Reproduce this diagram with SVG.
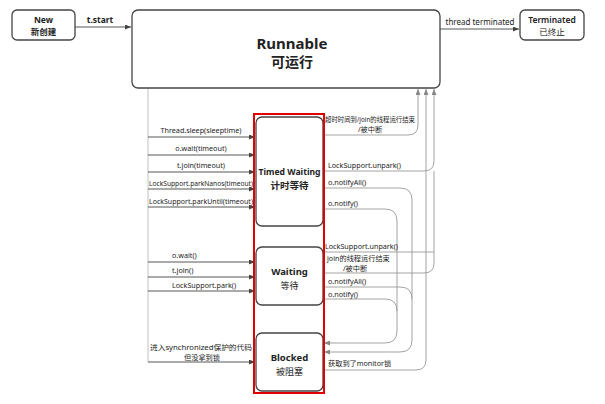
<svg xmlns="http://www.w3.org/2000/svg" width="605" height="404" viewBox="0 0 605 404">
<style>
text{font-family:"Noto Sans","Noto Sans CJK SC",sans-serif;fill:#222}
.node{fill:#fff;stroke:#444;stroke-width:1.3}
.t{font-weight:bold;text-anchor:middle}
.lb{font-size:7.2px}
.m{text-anchor:middle}
.dk{fill:none;stroke:#444;stroke-width:0.9}
.gr{fill:none;stroke:#999;stroke-width:0.9}
.lg{fill:none;stroke:#bbb;stroke-width:0.9}
</style>
<defs>
<marker id="ad" markerUnits="userSpaceOnUse" markerWidth="6" markerHeight="5" refX="6" refY="2.5" orient="auto"><path d="M0,0L6,2.5L0,5z" fill="#444"/></marker>
<marker id="ag" markerUnits="userSpaceOnUse" markerWidth="6" markerHeight="5" refX="6" refY="2.5" orient="auto"><path d="M0,0L6,2.5L0,5z" fill="#888"/></marker>
</defs>
<rect width="605" height="404" fill="#fff"/>
<g id="connectors">
<path class="dk" d="M75 27H131" marker-end="url(#ad)"/>
<path class="dk" d="M440 29H519" marker-end="url(#ad)"/>
<path class="lg" d="M148 88V362"/>
<path class="dk" d="M148 362H255" marker-end="url(#ad)"/>
<path class="dk" d="M148 137H255" marker-end="url(#ad)"/>
<path class="dk" d="M148 155H255" marker-end="url(#ad)"/>
<path class="dk" d="M148 172H255" marker-end="url(#ad)"/>
<path class="dk" d="M148 189H255" marker-end="url(#ad)"/>
<path class="dk" d="M148 207H255" marker-end="url(#ad)"/>
<path class="dk" d="M148 262H255" marker-end="url(#ad)"/>
<path class="dk" d="M148 277H255" marker-end="url(#ad)"/>
<path class="dk" d="M148 291H255" marker-end="url(#ad)"/>
<path class="gr" d="M323 135H408Q418 135 418 125V89" marker-end="url(#ag)"/>
<path class="gr" d="M323 171H424Q434 171 434 161V89" marker-end="url(#ag)"/>
<path class="gr" d="M323 252H434"/>
<path class="gr" d="M323 273H424Q434 273 434 263V171"/>
<path class="gr" d="M323 370H416Q426 370 426 360V89" marker-end="url(#ag)"/>
<path class="gr" d="M323 188H400Q412 188 412 200V340Q412 352 400 352H324" marker-end="url(#ag)"/>
<path class="gr" d="M323 287H400Q412 287 412 299"/>
<path class="gr" d="M323 209H385Q397 209 397 221V331Q397 343 385 343H324" marker-end="url(#ag)"/>
<path class="gr" d="M323 299H385Q397 299 397 311"/>
</g>
<g id="labels">
<text x="100" y="23" text-anchor="middle" style="font-size:8.5px;font-weight:bold">t.start</text>
<text x="480" y="25" text-anchor="middle" style="font-size:8px">thread terminated</text>
<text class="lb m" x="201" y="133">Thread.sleep(sleeptime)</text>
<text class="lb m" x="201" y="151">o.wait(timeout)</text>
<text class="lb m" x="201" y="168">t.join(timeout)</text>
<text class="lb m" x="201" y="186" textLength="104" lengthAdjust="spacingAndGlyphs">LockSupport.parkNanos(timeout)</text>
<text class="lb m" x="201" y="204" textLength="104" lengthAdjust="spacingAndGlyphs">LockSupport.parkUntil(timeout)</text>
<text class="lb" x="172" y="258">o.wait()</text>
<text class="lb" x="172" y="273">t.join()</text>
<text class="lb" x="172" y="288">LockSupport.park()</text>
<text class="lb m" x="201" y="350" textLength="102" lengthAdjust="spacingAndGlyphs">进入synchronized保护的代码</text>
<text class="lb m" x="202" y="360">但没拿到锁</text>
<text class="lb m" x="370" y="122" textLength="90" lengthAdjust="spacingAndGlyphs">超时时间到/join的线程运行结束</text>
<text class="lb m" x="370" y="132">/被中断</text>
<text class="lb" x="328" y="168">LockSupport.unpark()</text>
<text class="lb" x="328" y="185">o.notifyAll()</text>
<text class="lb" x="328" y="206">o.notify()</text>
<text class="lb" x="325" y="249" textLength="73" lengthAdjust="spacingAndGlyphs">LockSupport.unpark()</text>
<text class="lb" x="327" y="261">join的线程运行结束</text>
<text class="lb m" x="355" y="271">/被中断</text>
<text class="lb" x="328" y="284">o.notifyAll()</text>
<text class="lb" x="328" y="297">o.notify()</text>
<text class="lb" x="328" y="366">获取到了monitor锁</text>
</g>
<g id="new"><rect class="node" x="12" y="10" width="63" height="30" rx="5"/><text class="t" x="43.5" y="23" font-size="8.5">New</text><text class="t" x="43.5" y="35" font-size="8.5">新创建</text></g>
<g id="runnable"><rect class="node" x="132" y="10" width="308" height="78" rx="6"/><text class="t" x="292" y="49" font-size="15">Runnable</text><text class="t" x="292" y="67" font-size="14">可运行</text></g>
<g id="terminated"><rect class="node" x="520" y="10" width="64" height="30" rx="5"/><text class="t" x="552" y="23" font-size="8.5" style="font-weight:600">Terminated</text><text class="t" x="552" y="35" font-size="8.5" style="font-weight:normal">已终止</text></g>
<g id="timed-waiting"><rect class="node" x="256" y="117" width="67" height="109" rx="6"/><text class="t" x="289.5" y="175" font-size="9.5" textLength="62" lengthAdjust="spacingAndGlyphs">Timed Waiting</text><text class="t" x="289.5" y="189" font-size="9.5">计时等待</text></g>
<g id="waiting"><rect class="node" x="256" y="247" width="67" height="58" rx="6"/><text class="t" x="289.5" y="275" font-size="9.5">Waiting</text><text class="t" x="289.5" y="289" font-size="9" style="font-weight:normal">等待</text></g>
<g id="blocked"><rect class="node" x="256" y="333" width="67" height="58" rx="6"/><text class="t" x="289.5" y="361" font-size="9.5">Blocked</text><text class="t" x="289.5" y="375" font-size="9" style="font-weight:normal">被阻塞</text></g>
<rect x="254" y="114" width="70" height="279" fill="none" stroke="#e00000" stroke-width="2"/>
</svg>
